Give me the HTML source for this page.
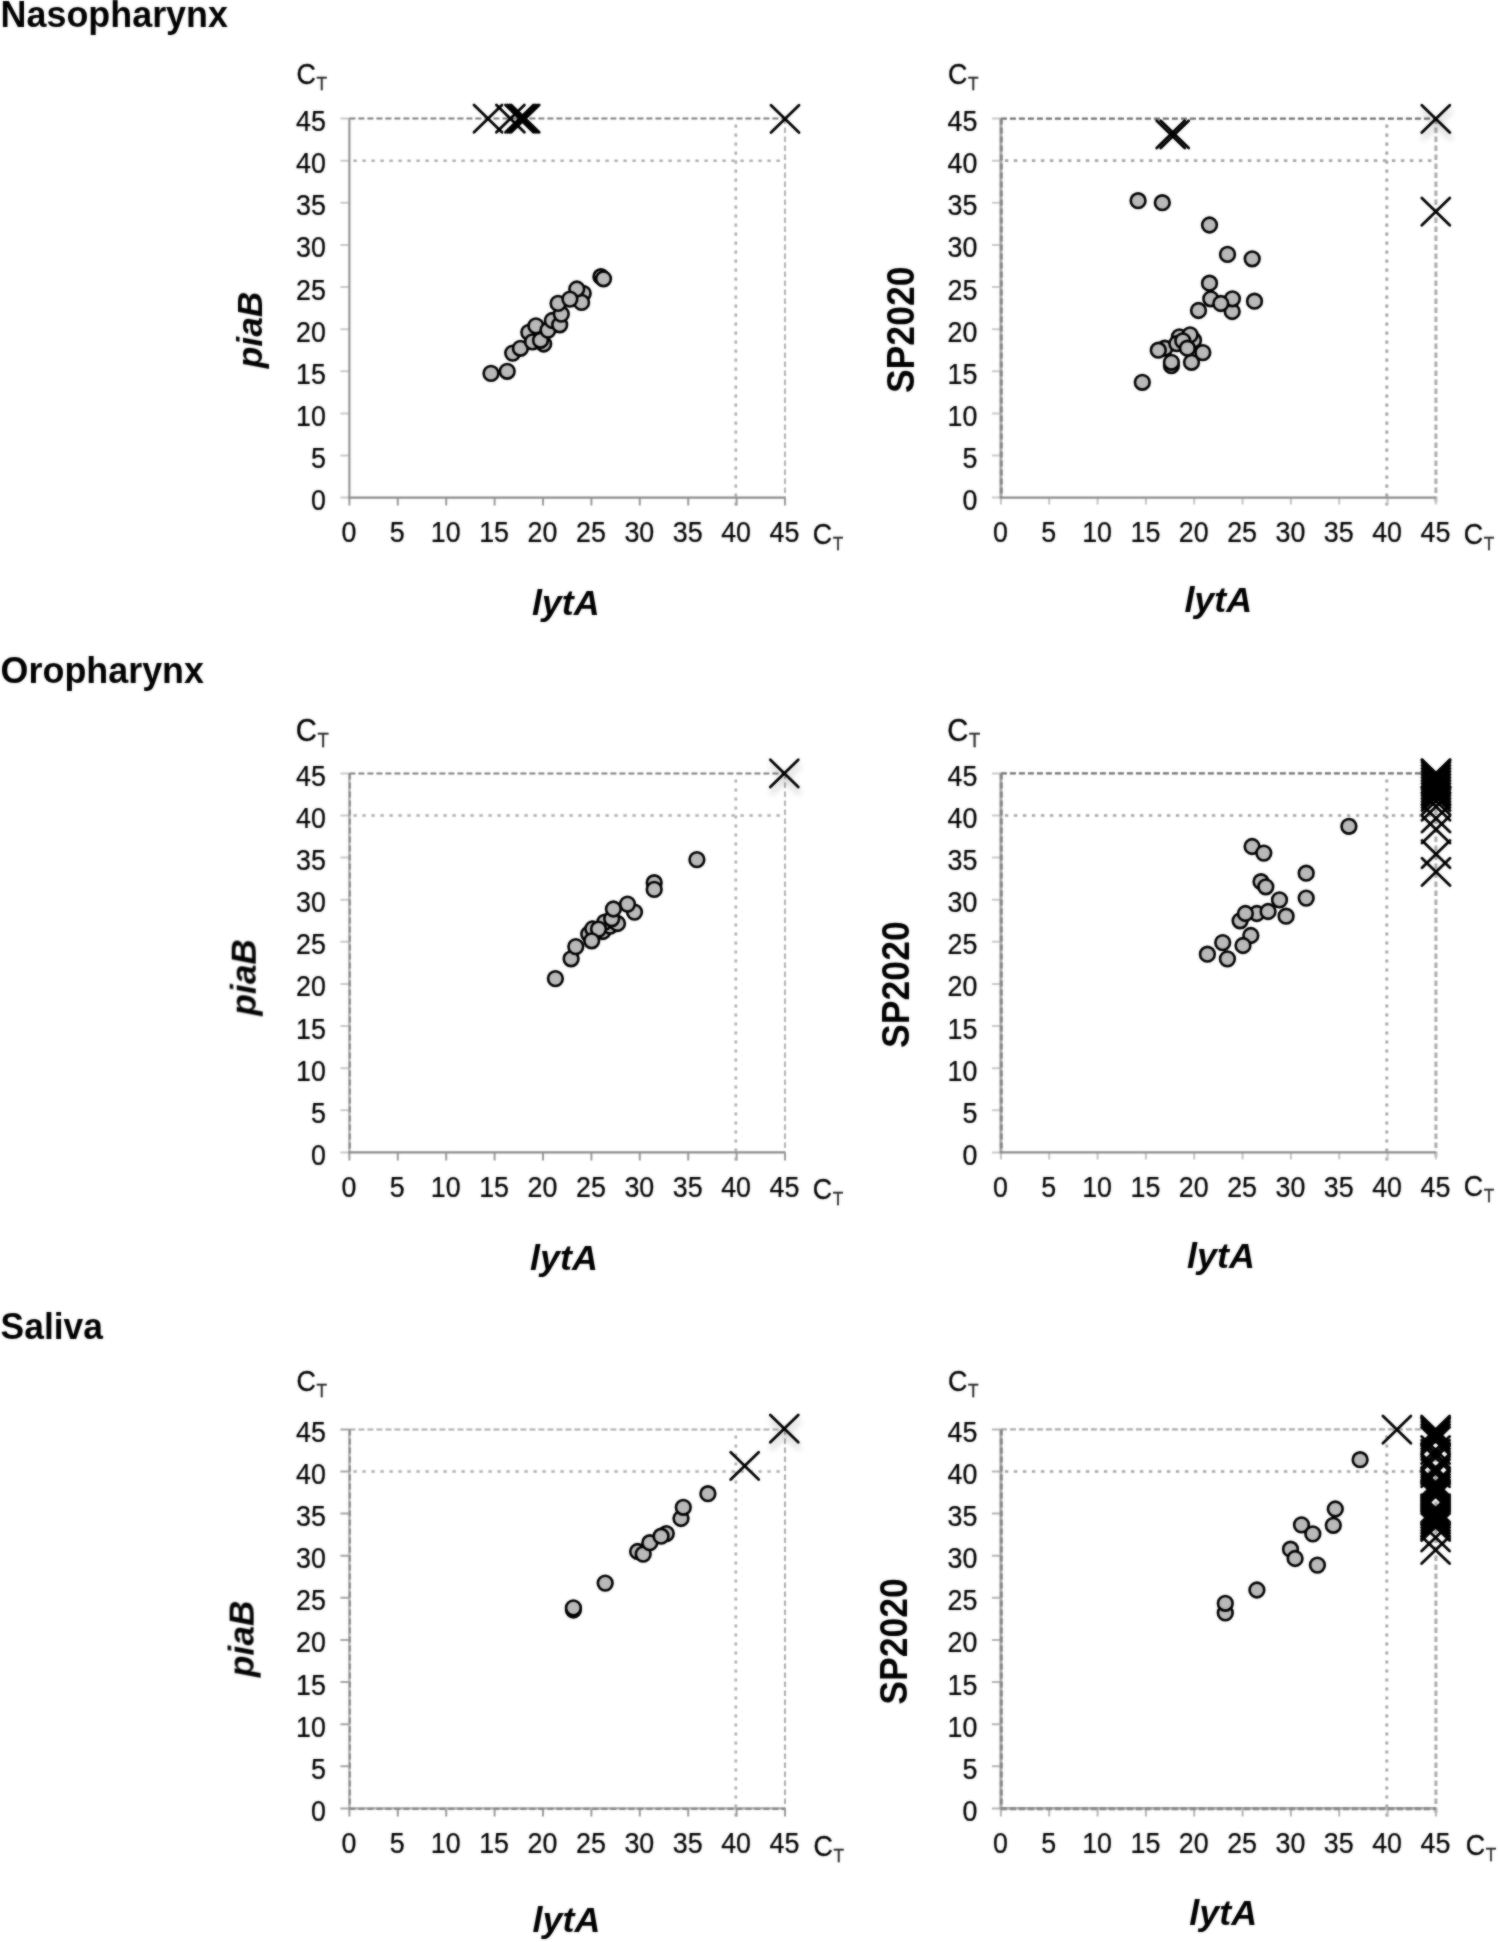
<!DOCTYPE html>
<html><head><meta charset="utf-8"><title>Figure</title>
<style>html,body{margin:0;padding:0;background:#fff}body{width:1498px;height:1942px;overflow:hidden}svg{display:block}text{font-family:"Liberation Sans", sans-serif;fill:#000}</style></head><body>
<svg width="1498" height="1942" viewBox="0 0 1498 1942">
<defs><filter id="sh" x="-50%" y="-50%" width="200%" height="200%"><feGaussianBlur in="SourceAlpha" stdDeviation="3.0"/><feOffset dx="1" dy="6" result="b"/><feComponentTransfer><feFuncA type="linear" slope="0.24"/></feComponentTransfer><feMerge><feMergeNode/><feMergeNode in="SourceGraphic"/></feMerge></filter></defs>
<rect width="1498" height="1942" fill="#fff"/>
<filter id="soft" x="0" y="0" width="100%" height="100%" filterUnits="userSpaceOnUse" color-interpolation-filters="sRGB"><feGaussianBlur stdDeviation="0.9" result="b"/><feComposite in="b" in2="SourceGraphic" operator="arithmetic" k1="0" k2="0.55" k3="0.45" k4="0"/></filter>
<g filter="url(#soft)">
<text transform="translate(0.60 27.40) scale(1 1.035)" font-size="35.90" font-weight="bold">Nasopharynx</text>
<text transform="translate(0.60 682.60) scale(1 1.035)" font-size="35.90" font-weight="bold">Oropharynx</text>
<text transform="translate(0.60 1339.30) scale(1 1.035)" font-size="35.40" font-weight="bold">Saliva</text>
<g>
<path d="M349.4 118.6H785.0" stroke="#7c7c7c" stroke-width="2.0" stroke-dasharray="6 3" fill="none"/>
<path d="M785.0 118.6V505.6" stroke="#b2b2b2" stroke-width="2.0" stroke-dasharray="5.5 3.5" fill="none"/>
<path d="M353.4 160.7H785.0" stroke="#adadad" stroke-width="2.45" stroke-dasharray="3.4 5.6" fill="none"/>
<path d="M735.8 124.6V505.6" stroke="#adadad" stroke-width="2.65" stroke-dasharray="3.2 5.8" fill="none"/>
<path d="M340.4 497.6h9M340.4 455.5h9M340.4 413.4h9M340.4 371.3h9M340.4 329.2h9M340.4 287.0h9M340.4 244.9h9M340.4 202.8h9M340.4 160.7h9M340.4 118.6h9" stroke="#c9c9c9" stroke-width="2" fill="none"/>
<path d="M349.4 497.6v8.0M397.8 497.6v8.0M446.2 497.6v8.0M494.6 497.6v8.0M543.0 497.6v8.0M591.4 497.6v8.0M639.8 497.6v8.0M688.2 497.6v8.0M736.6 497.6v8.0M785.0 497.6v8.0" stroke="#9a9a9a" stroke-width="2" fill="none"/>
<path d="M349.4 118.6V498.6" stroke="#919191" stroke-width="2.1" fill="none"/>
<path d="M348.4 497.6H785.0" stroke="#8c8c8c" stroke-width="2.3" fill="none"/>
<text transform="translate(325.80 510.10) scale(1 1.080)" font-size="26.80" text-anchor="end" stroke="#000" stroke-width="0.22">0</text>
<text transform="translate(325.80 467.99) scale(1 1.080)" font-size="26.80" text-anchor="end" stroke="#000" stroke-width="0.22">5</text>
<text transform="translate(325.80 425.88) scale(1 1.080)" font-size="26.80" text-anchor="end" stroke="#000" stroke-width="0.22">10</text>
<text transform="translate(325.80 383.77) scale(1 1.080)" font-size="26.80" text-anchor="end" stroke="#000" stroke-width="0.22">15</text>
<text transform="translate(325.80 341.66) scale(1 1.080)" font-size="26.80" text-anchor="end" stroke="#000" stroke-width="0.22">20</text>
<text transform="translate(325.80 299.54) scale(1 1.080)" font-size="26.80" text-anchor="end" stroke="#000" stroke-width="0.22">25</text>
<text transform="translate(325.80 257.43) scale(1 1.080)" font-size="26.80" text-anchor="end" stroke="#000" stroke-width="0.22">30</text>
<text transform="translate(325.80 215.32) scale(1 1.080)" font-size="26.80" text-anchor="end" stroke="#000" stroke-width="0.22">35</text>
<text transform="translate(325.80 173.21) scale(1 1.080)" font-size="26.80" text-anchor="end" stroke="#000" stroke-width="0.22">40</text>
<text transform="translate(325.80 131.10) scale(1 1.080)" font-size="26.80" text-anchor="end" stroke="#000" stroke-width="0.22">45</text>
<text transform="translate(348.90 542.00) scale(1 1.080)" font-size="26.80" text-anchor="middle" stroke="#000" stroke-width="0.22">0</text>
<text transform="translate(397.30 542.00) scale(1 1.080)" font-size="26.80" text-anchor="middle" stroke="#000" stroke-width="0.22">5</text>
<text transform="translate(445.70 542.00) scale(1 1.080)" font-size="26.80" text-anchor="middle" stroke="#000" stroke-width="0.22">10</text>
<text transform="translate(494.10 542.00) scale(1 1.080)" font-size="26.80" text-anchor="middle" stroke="#000" stroke-width="0.22">15</text>
<text transform="translate(542.50 542.00) scale(1 1.080)" font-size="26.80" text-anchor="middle" stroke="#000" stroke-width="0.22">20</text>
<text transform="translate(590.90 542.00) scale(1 1.080)" font-size="26.80" text-anchor="middle" stroke="#000" stroke-width="0.22">25</text>
<text transform="translate(639.30 542.00) scale(1 1.080)" font-size="26.80" text-anchor="middle" stroke="#000" stroke-width="0.22">30</text>
<text transform="translate(687.70 542.00) scale(1 1.080)" font-size="26.80" text-anchor="middle" stroke="#000" stroke-width="0.22">35</text>
<text transform="translate(736.10 542.00) scale(1 1.080)" font-size="26.80" text-anchor="middle" stroke="#000" stroke-width="0.22">40</text>
<text transform="translate(784.50 542.00) scale(1 1.080)" font-size="26.80" text-anchor="middle" stroke="#000" stroke-width="0.22">45</text>
<text transform="translate(296.50 83.80) scale(1 1.080)" font-size="26.80" stroke="#000" stroke-width="0.30">C<tspan font-size="17.2" dx="0.6" dy="5.3" fill="#333">T</tspan></text>
<text transform="translate(812.80 544.00) scale(1 1.080)" font-size="26.80" stroke="#000" stroke-width="0.30">C<tspan font-size="17.2" dx="0.6" dy="5.3" fill="#333">T</tspan></text>
<text transform="translate(565.80 615.20) scale(1 1.000)" font-size="35.90" text-anchor="middle" font-weight="bold" font-style="italic">lytA</text>
<text transform="translate(262.50 329.90) rotate(-90) scale(1 1.015)" font-size="35.30" text-anchor="middle" font-weight="bold" font-style="italic">piaB</text>
<circle cx="491.0" cy="373.4" r="7.35" fill="#b9b9b9" stroke="#000" stroke-width="2.6"/>
<circle cx="507.2" cy="371.3" r="7.35" fill="#b9b9b9" stroke="#000" stroke-width="2.6"/>
<circle cx="512.7" cy="353.1" r="7.35" fill="#b9b9b9" stroke="#000" stroke-width="2.6"/>
<circle cx="520.4" cy="348.3" r="7.35" fill="#b9b9b9" stroke="#000" stroke-width="2.6"/>
<circle cx="528.8" cy="332.3" r="7.35" fill="#b9b9b9" stroke="#000" stroke-width="2.6"/>
<circle cx="532.5" cy="341.9" r="7.35" fill="#b9b9b9" stroke="#000" stroke-width="2.6"/>
<circle cx="543.7" cy="344.0" r="7.35" fill="#b9b9b9" stroke="#000" stroke-width="2.6"/>
<circle cx="540.5" cy="340.3" r="7.35" fill="#b9b9b9" stroke="#000" stroke-width="2.6"/>
<circle cx="535.9" cy="325.9" r="7.35" fill="#b9b9b9" stroke="#000" stroke-width="2.6"/>
<circle cx="548.0" cy="330.1" r="7.35" fill="#b9b9b9" stroke="#000" stroke-width="2.6"/>
<circle cx="552.3" cy="320.5" r="7.35" fill="#b9b9b9" stroke="#000" stroke-width="2.6"/>
<circle cx="559.7" cy="324.8" r="7.35" fill="#b9b9b9" stroke="#000" stroke-width="2.6"/>
<circle cx="561.3" cy="314.1" r="7.35" fill="#b9b9b9" stroke="#000" stroke-width="2.6"/>
<circle cx="558.1" cy="303.4" r="7.35" fill="#b9b9b9" stroke="#000" stroke-width="2.6"/>
<circle cx="583.2" cy="293.3" r="7.35" fill="#b9b9b9" stroke="#000" stroke-width="2.6"/>
<circle cx="581.6" cy="302.4" r="7.35" fill="#b9b9b9" stroke="#000" stroke-width="2.6"/>
<circle cx="576.8" cy="289.0" r="7.35" fill="#b9b9b9" stroke="#000" stroke-width="2.6"/>
<circle cx="569.9" cy="299.1" r="7.35" fill="#b9b9b9" stroke="#000" stroke-width="2.6"/>
<circle cx="600.9" cy="276.7" r="7.35" fill="#b9b9b9" stroke="#000" stroke-width="2.6"/>
<circle cx="603.5" cy="278.8" r="7.35" fill="#b9b9b9" stroke="#000" stroke-width="2.6"/>
<path d="M474.0 105.1l28 27.2m-28 0l28 -27.2" stroke="#000" stroke-width="2.8" stroke-linecap="round" fill="none"/>
<path d="M496.4 105.1l28 27.2m-28 0l28 -27.2" stroke="#000" stroke-width="2.8" stroke-linecap="round" fill="none"/>
<path d="M505.5 105.1l28 27.2m-28 0l28 -27.2" stroke="#000" stroke-width="2.8" stroke-linecap="round" fill="none"/>
<path d="M507.5 105.1l28 27.2m-28 0l28 -27.2" stroke="#000" stroke-width="2.8" stroke-linecap="round" fill="none"/>
<path d="M509.5 105.1l28 27.2m-28 0l28 -27.2" stroke="#000" stroke-width="2.8" stroke-linecap="round" fill="none"/>
<path d="M511.2 105.1l28 27.2m-28 0l28 -27.2" stroke="#000" stroke-width="2.8" stroke-linecap="round" fill="none"/>
<path d="M771.0 105.2l28 27.2m-28 0l28 -27.2" stroke="#000" stroke-width="2.8" stroke-linecap="round" fill="none"/>
</g>
<g>
<path d="M1000.9 118.6H1435.9" stroke="#6f6f6f" stroke-width="2.3" stroke-dasharray="6 3" fill="none"/>
<path d="M1435.9 118.6V505.6" stroke="#ababab" stroke-width="3.0" stroke-dasharray="5.5 3.5" fill="none"/>
<path d="M1004.9 160.7H1435.9" stroke="#a2a2a2" stroke-width="2.70" stroke-dasharray="3.4 5.6" fill="none"/>
<path d="M1386.8 124.6V505.6" stroke="#a2a2a2" stroke-width="2.90" stroke-dasharray="3.2 5.8" fill="none"/>
<path d="M991.9 497.6h9M991.9 455.5h9M991.9 413.4h9M991.9 371.3h9M991.9 329.2h9M991.9 287.0h9M991.9 244.9h9M991.9 202.8h9M991.9 160.7h9M991.9 118.6h9" stroke="#c9c9c9" stroke-width="2" fill="none"/>
<path d="M1000.9 497.6v7.0M1049.2 497.6v7.0M1097.6 497.6v7.0M1145.9 497.6v7.0M1194.2 497.6v7.0M1242.6 497.6v7.0M1290.9 497.6v7.0M1339.2 497.6v7.0M1387.6 497.6v7.0M1435.9 497.6v7.0" stroke="#c4c4c4" stroke-width="2" fill="none"/>
<path d="M1000.9 118.6V498.6" stroke="#a8a8a8" stroke-width="2.9" fill="none"/>
<path d="M999.9 497.6H1435.9" stroke="#8c8c8c" stroke-width="2.3" fill="none"/>
<path d="M1001.3 118.6V497.6" stroke="#858585" stroke-width="2.9" stroke-dasharray="6 3" fill="none"/>
<text transform="translate(977.30 510.10) scale(1 1.080)" font-size="26.80" text-anchor="end" stroke="#000" stroke-width="0.22">0</text>
<text transform="translate(977.30 467.99) scale(1 1.080)" font-size="26.80" text-anchor="end" stroke="#000" stroke-width="0.22">5</text>
<text transform="translate(977.30 425.88) scale(1 1.080)" font-size="26.80" text-anchor="end" stroke="#000" stroke-width="0.22">10</text>
<text transform="translate(977.30 383.77) scale(1 1.080)" font-size="26.80" text-anchor="end" stroke="#000" stroke-width="0.22">15</text>
<text transform="translate(977.30 341.66) scale(1 1.080)" font-size="26.80" text-anchor="end" stroke="#000" stroke-width="0.22">20</text>
<text transform="translate(977.30 299.54) scale(1 1.080)" font-size="26.80" text-anchor="end" stroke="#000" stroke-width="0.22">25</text>
<text transform="translate(977.30 257.43) scale(1 1.080)" font-size="26.80" text-anchor="end" stroke="#000" stroke-width="0.22">30</text>
<text transform="translate(977.30 215.32) scale(1 1.080)" font-size="26.80" text-anchor="end" stroke="#000" stroke-width="0.22">35</text>
<text transform="translate(977.30 173.21) scale(1 1.080)" font-size="26.80" text-anchor="end" stroke="#000" stroke-width="0.22">40</text>
<text transform="translate(977.30 131.10) scale(1 1.080)" font-size="26.80" text-anchor="end" stroke="#000" stroke-width="0.22">45</text>
<text transform="translate(1000.40 542.00) scale(1 1.080)" font-size="26.80" text-anchor="middle" stroke="#000" stroke-width="0.22">0</text>
<text transform="translate(1048.73 542.00) scale(1 1.080)" font-size="26.80" text-anchor="middle" stroke="#000" stroke-width="0.22">5</text>
<text transform="translate(1097.07 542.00) scale(1 1.080)" font-size="26.80" text-anchor="middle" stroke="#000" stroke-width="0.22">10</text>
<text transform="translate(1145.40 542.00) scale(1 1.080)" font-size="26.80" text-anchor="middle" stroke="#000" stroke-width="0.22">15</text>
<text transform="translate(1193.73 542.00) scale(1 1.080)" font-size="26.80" text-anchor="middle" stroke="#000" stroke-width="0.22">20</text>
<text transform="translate(1242.07 542.00) scale(1 1.080)" font-size="26.80" text-anchor="middle" stroke="#000" stroke-width="0.22">25</text>
<text transform="translate(1290.40 542.00) scale(1 1.080)" font-size="26.80" text-anchor="middle" stroke="#000" stroke-width="0.22">30</text>
<text transform="translate(1338.73 542.00) scale(1 1.080)" font-size="26.80" text-anchor="middle" stroke="#000" stroke-width="0.22">35</text>
<text transform="translate(1387.07 542.00) scale(1 1.080)" font-size="26.80" text-anchor="middle" stroke="#000" stroke-width="0.22">40</text>
<text transform="translate(1435.40 542.00) scale(1 1.080)" font-size="26.80" text-anchor="middle" stroke="#000" stroke-width="0.22">45</text>
<text transform="translate(948.00 83.80) scale(1 1.080)" font-size="26.80" stroke="#000" stroke-width="0.30">C<tspan font-size="17.2" dx="0.6" dy="5.3" fill="#333">T</tspan></text>
<text transform="translate(1463.70 544.00) scale(1 1.080)" font-size="26.80" stroke="#000" stroke-width="0.30">C<tspan font-size="17.2" dx="0.6" dy="5.3" fill="#333">T</tspan></text>
<text transform="translate(1218.30 612.40) scale(1 1.000)" font-size="35.90" text-anchor="middle" font-weight="bold" font-style="italic">lytA</text>
<text transform="translate(914.20 329.80) rotate(-90) scale(1 1.070)" font-size="35.60" text-anchor="middle" font-weight="bold">SP2020</text>
<circle cx="1142.3" cy="382.3" r="7.35" fill="#b9b9b9" stroke="#000" stroke-width="2.6"/>
<circle cx="1171.4" cy="365.6" r="7.35" fill="#b9b9b9" stroke="#000" stroke-width="2.6"/>
<circle cx="1171.4" cy="362.3" r="7.35" fill="#b9b9b9" stroke="#000" stroke-width="2.6"/>
<circle cx="1164.8" cy="348.2" r="7.35" fill="#b9b9b9" stroke="#000" stroke-width="2.6"/>
<circle cx="1158.3" cy="350.2" r="7.35" fill="#b9b9b9" stroke="#000" stroke-width="2.6"/>
<circle cx="1191.5" cy="362.3" r="7.35" fill="#b9b9b9" stroke="#000" stroke-width="2.6"/>
<circle cx="1202.8" cy="352.6" r="7.35" fill="#b9b9b9" stroke="#000" stroke-width="2.6"/>
<circle cx="1179.4" cy="336.9" r="7.35" fill="#b9b9b9" stroke="#000" stroke-width="2.6"/>
<circle cx="1176.8" cy="343.6" r="7.35" fill="#b9b9b9" stroke="#000" stroke-width="2.6"/>
<circle cx="1193.5" cy="340.2" r="7.35" fill="#b9b9b9" stroke="#000" stroke-width="2.6"/>
<circle cx="1190.1" cy="334.9" r="7.35" fill="#b9b9b9" stroke="#000" stroke-width="2.6"/>
<circle cx="1182.8" cy="340.9" r="7.35" fill="#b9b9b9" stroke="#000" stroke-width="2.6"/>
<circle cx="1187.4" cy="348.2" r="7.35" fill="#b9b9b9" stroke="#000" stroke-width="2.6"/>
<circle cx="1198.5" cy="310.5" r="7.35" fill="#b9b9b9" stroke="#000" stroke-width="2.6"/>
<circle cx="1232.2" cy="311.5" r="7.35" fill="#b9b9b9" stroke="#000" stroke-width="2.6"/>
<circle cx="1210.8" cy="298.8" r="7.35" fill="#b9b9b9" stroke="#000" stroke-width="2.6"/>
<circle cx="1232.4" cy="298.8" r="7.35" fill="#b9b9b9" stroke="#000" stroke-width="2.6"/>
<circle cx="1220.8" cy="303.5" r="7.35" fill="#b9b9b9" stroke="#000" stroke-width="2.6"/>
<circle cx="1254.5" cy="301.2" r="7.35" fill="#b9b9b9" stroke="#000" stroke-width="2.6"/>
<circle cx="1209.5" cy="283.2" r="7.35" fill="#b9b9b9" stroke="#000" stroke-width="2.6"/>
<circle cx="1227.5" cy="254.4" r="7.35" fill="#b9b9b9" stroke="#000" stroke-width="2.6"/>
<circle cx="1252.2" cy="258.8" r="7.35" fill="#b9b9b9" stroke="#000" stroke-width="2.6"/>
<circle cx="1209.5" cy="225.0" r="7.35" fill="#b9b9b9" stroke="#000" stroke-width="2.6"/>
<circle cx="1138.1" cy="200.7" r="7.35" fill="#b9b9b9" stroke="#000" stroke-width="2.6"/>
<circle cx="1162.3" cy="202.7" r="7.35" fill="#b9b9b9" stroke="#000" stroke-width="2.6"/>
<path d="M1156.7 120.8l28 27.2m-28 0l28 -27.2" stroke="#000" stroke-width="2.8" stroke-linecap="round" fill="none"/>
<path d="M1160.7 120.8l28 27.2m-28 0l28 -27.2" stroke="#000" stroke-width="2.8" stroke-linecap="round" fill="none"/>
<path d="M1421.8 105.2l28 27.2m-28 0l28 -27.2" stroke="#000" stroke-width="2.8" stroke-linecap="round" fill="none" filter="url(#sh)"/>
<path d="M1421.8 198.0l28 27.2m-28 0l28 -27.2" stroke="#000" stroke-width="2.8" stroke-linecap="round" fill="none"/>
</g>
<g>
<path d="M349.4 773.4H785.0" stroke="#7c7c7c" stroke-width="2.0" stroke-dasharray="6 3" fill="none"/>
<path d="M785.0 773.4V1160.4" stroke="#b2b2b2" stroke-width="2.0" stroke-dasharray="5.5 3.5" fill="none"/>
<path d="M353.4 815.5H785.0" stroke="#adadad" stroke-width="2.45" stroke-dasharray="3.4 5.6" fill="none"/>
<path d="M735.8 779.4V1160.4" stroke="#adadad" stroke-width="2.65" stroke-dasharray="3.2 5.8" fill="none"/>
<path d="M340.4 1152.4h9M340.4 1110.3h9M340.4 1068.2h9M340.4 1026.1h9M340.4 984.0h9M340.4 941.8h9M340.4 899.7h9M340.4 857.6h9M340.4 815.5h9M340.4 773.4h9" stroke="#c9c9c9" stroke-width="2" fill="none"/>
<path d="M349.4 1152.4v8.0M397.8 1152.4v8.0M446.2 1152.4v8.0M494.6 1152.4v8.0M543.0 1152.4v8.0M591.4 1152.4v8.0M639.8 1152.4v8.0M688.2 1152.4v8.0M736.6 1152.4v8.0M785.0 1152.4v8.0" stroke="#9a9a9a" stroke-width="2" fill="none"/>
<path d="M349.4 773.4V1153.4" stroke="#a8a8a8" stroke-width="2.1" fill="none"/>
<path d="M348.4 1152.4H785.0" stroke="#8c8c8c" stroke-width="2.3" fill="none"/>
<path d="M349.8 773.4V1152.4" stroke="#858585" stroke-width="2.1" stroke-dasharray="6 3" fill="none"/>
<text transform="translate(325.80 1164.90) scale(1 1.080)" font-size="26.80" text-anchor="end" stroke="#000" stroke-width="0.22">0</text>
<text transform="translate(325.80 1122.79) scale(1 1.080)" font-size="26.80" text-anchor="end" stroke="#000" stroke-width="0.22">5</text>
<text transform="translate(325.80 1080.68) scale(1 1.080)" font-size="26.80" text-anchor="end" stroke="#000" stroke-width="0.22">10</text>
<text transform="translate(325.80 1038.57) scale(1 1.080)" font-size="26.80" text-anchor="end" stroke="#000" stroke-width="0.22">15</text>
<text transform="translate(325.80 996.46) scale(1 1.080)" font-size="26.80" text-anchor="end" stroke="#000" stroke-width="0.22">20</text>
<text transform="translate(325.80 954.34) scale(1 1.080)" font-size="26.80" text-anchor="end" stroke="#000" stroke-width="0.22">25</text>
<text transform="translate(325.80 912.23) scale(1 1.080)" font-size="26.80" text-anchor="end" stroke="#000" stroke-width="0.22">30</text>
<text transform="translate(325.80 870.12) scale(1 1.080)" font-size="26.80" text-anchor="end" stroke="#000" stroke-width="0.22">35</text>
<text transform="translate(325.80 828.01) scale(1 1.080)" font-size="26.80" text-anchor="end" stroke="#000" stroke-width="0.22">40</text>
<text transform="translate(325.80 785.90) scale(1 1.080)" font-size="26.80" text-anchor="end" stroke="#000" stroke-width="0.22">45</text>
<text transform="translate(348.90 1196.80) scale(1 1.080)" font-size="26.80" text-anchor="middle" stroke="#000" stroke-width="0.22">0</text>
<text transform="translate(397.30 1196.80) scale(1 1.080)" font-size="26.80" text-anchor="middle" stroke="#000" stroke-width="0.22">5</text>
<text transform="translate(445.70 1196.80) scale(1 1.080)" font-size="26.80" text-anchor="middle" stroke="#000" stroke-width="0.22">10</text>
<text transform="translate(494.10 1196.80) scale(1 1.080)" font-size="26.80" text-anchor="middle" stroke="#000" stroke-width="0.22">15</text>
<text transform="translate(542.50 1196.80) scale(1 1.080)" font-size="26.80" text-anchor="middle" stroke="#000" stroke-width="0.22">20</text>
<text transform="translate(590.90 1196.80) scale(1 1.080)" font-size="26.80" text-anchor="middle" stroke="#000" stroke-width="0.22">25</text>
<text transform="translate(639.30 1196.80) scale(1 1.080)" font-size="26.80" text-anchor="middle" stroke="#000" stroke-width="0.22">30</text>
<text transform="translate(687.70 1196.80) scale(1 1.080)" font-size="26.80" text-anchor="middle" stroke="#000" stroke-width="0.22">35</text>
<text transform="translate(736.10 1196.80) scale(1 1.080)" font-size="26.80" text-anchor="middle" stroke="#000" stroke-width="0.22">40</text>
<text transform="translate(784.50 1196.80) scale(1 1.080)" font-size="26.80" text-anchor="middle" stroke="#000" stroke-width="0.22">45</text>
<text transform="translate(295.80 740.60) scale(1 1.080)" font-size="29.20" stroke="#000" stroke-width="0.30">C<tspan font-size="18.4" dx="0.6" dy="5.6" fill="#333">T</tspan></text>
<text transform="translate(812.80 1198.80) scale(1 1.080)" font-size="26.80" stroke="#000" stroke-width="0.30">C<tspan font-size="17.2" dx="0.6" dy="5.3" fill="#333">T</tspan></text>
<text transform="translate(564.00 1270.00) scale(1 1.000)" font-size="35.90" text-anchor="middle" font-weight="bold" font-style="italic">lytA</text>
<text transform="translate(256.20 977.40) rotate(-90) scale(1 1.015)" font-size="35.30" text-anchor="middle" font-weight="bold" font-style="italic">piaB</text>
<circle cx="555.4" cy="978.6" r="7.35" fill="#b9b9b9" stroke="#000" stroke-width="2.6"/>
<circle cx="571.1" cy="958.8" r="7.35" fill="#b9b9b9" stroke="#000" stroke-width="2.6"/>
<circle cx="575.8" cy="946.6" r="7.35" fill="#b9b9b9" stroke="#000" stroke-width="2.6"/>
<circle cx="588.7" cy="934.1" r="7.35" fill="#b9b9b9" stroke="#000" stroke-width="2.6"/>
<circle cx="592.8" cy="928.8" r="7.35" fill="#b9b9b9" stroke="#000" stroke-width="2.6"/>
<circle cx="602.8" cy="931.5" r="7.35" fill="#b9b9b9" stroke="#000" stroke-width="2.6"/>
<circle cx="610.1" cy="926.1" r="7.35" fill="#b9b9b9" stroke="#000" stroke-width="2.6"/>
<circle cx="617.5" cy="923.5" r="7.35" fill="#b9b9b9" stroke="#000" stroke-width="2.6"/>
<circle cx="604.8" cy="922.1" r="7.35" fill="#b9b9b9" stroke="#000" stroke-width="2.6"/>
<circle cx="611.7" cy="918.8" r="7.35" fill="#b9b9b9" stroke="#000" stroke-width="2.6"/>
<circle cx="598.5" cy="929.1" r="7.35" fill="#b9b9b9" stroke="#000" stroke-width="2.6"/>
<circle cx="591.7" cy="940.8" r="7.35" fill="#b9b9b9" stroke="#000" stroke-width="2.6"/>
<circle cx="634.5" cy="912.1" r="7.35" fill="#b9b9b9" stroke="#000" stroke-width="2.6"/>
<circle cx="627.5" cy="904.1" r="7.35" fill="#b9b9b9" stroke="#000" stroke-width="2.6"/>
<circle cx="613.4" cy="909.0" r="7.35" fill="#b9b9b9" stroke="#000" stroke-width="2.6"/>
<circle cx="654.2" cy="882.7" r="7.35" fill="#b9b9b9" stroke="#000" stroke-width="2.6"/>
<circle cx="654.2" cy="889.4" r="7.35" fill="#b9b9b9" stroke="#000" stroke-width="2.6"/>
<circle cx="696.9" cy="859.6" r="7.35" fill="#b9b9b9" stroke="#000" stroke-width="2.6"/>
<path d="M770.3 759.8l28 27.2m-28 0l28 -27.2" stroke="#000" stroke-width="2.8" stroke-linecap="round" fill="none" filter="url(#sh)"/>
</g>
<g>
<path d="M1000.9 773.4H1435.9" stroke="#6f6f6f" stroke-width="2.3" stroke-dasharray="6 3" fill="none"/>
<path d="M1435.9 773.4V1160.4" stroke="#ababab" stroke-width="3.0" stroke-dasharray="5.5 3.5" fill="none"/>
<path d="M1004.9 815.5H1435.9" stroke="#a2a2a2" stroke-width="2.70" stroke-dasharray="3.4 5.6" fill="none"/>
<path d="M1386.8 779.4V1160.4" stroke="#a2a2a2" stroke-width="2.90" stroke-dasharray="3.2 5.8" fill="none"/>
<path d="M991.9 1152.4h9M991.9 1110.3h9M991.9 1068.2h9M991.9 1026.1h9M991.9 984.0h9M991.9 941.8h9M991.9 899.7h9M991.9 857.6h9M991.9 815.5h9M991.9 773.4h9" stroke="#c9c9c9" stroke-width="2" fill="none"/>
<path d="M1000.9 1152.4v7.0M1049.2 1152.4v7.0M1097.6 1152.4v7.0M1145.9 1152.4v7.0M1194.2 1152.4v7.0M1242.6 1152.4v7.0M1290.9 1152.4v7.0M1339.2 1152.4v7.0M1387.6 1152.4v7.0M1435.9 1152.4v7.0" stroke="#c4c4c4" stroke-width="2" fill="none"/>
<path d="M1000.9 773.4V1153.4" stroke="#a8a8a8" stroke-width="2.9" fill="none"/>
<path d="M999.9 1152.4H1435.9" stroke="#8c8c8c" stroke-width="2.3" fill="none"/>
<path d="M1001.3 773.4V1152.4" stroke="#858585" stroke-width="2.9" stroke-dasharray="6 3" fill="none"/>
<text transform="translate(977.30 1164.90) scale(1 1.080)" font-size="26.80" text-anchor="end" stroke="#000" stroke-width="0.22">0</text>
<text transform="translate(977.30 1122.79) scale(1 1.080)" font-size="26.80" text-anchor="end" stroke="#000" stroke-width="0.22">5</text>
<text transform="translate(977.30 1080.68) scale(1 1.080)" font-size="26.80" text-anchor="end" stroke="#000" stroke-width="0.22">10</text>
<text transform="translate(977.30 1038.57) scale(1 1.080)" font-size="26.80" text-anchor="end" stroke="#000" stroke-width="0.22">15</text>
<text transform="translate(977.30 996.46) scale(1 1.080)" font-size="26.80" text-anchor="end" stroke="#000" stroke-width="0.22">20</text>
<text transform="translate(977.30 954.34) scale(1 1.080)" font-size="26.80" text-anchor="end" stroke="#000" stroke-width="0.22">25</text>
<text transform="translate(977.30 912.23) scale(1 1.080)" font-size="26.80" text-anchor="end" stroke="#000" stroke-width="0.22">30</text>
<text transform="translate(977.30 870.12) scale(1 1.080)" font-size="26.80" text-anchor="end" stroke="#000" stroke-width="0.22">35</text>
<text transform="translate(977.30 828.01) scale(1 1.080)" font-size="26.80" text-anchor="end" stroke="#000" stroke-width="0.22">40</text>
<text transform="translate(977.30 785.90) scale(1 1.080)" font-size="26.80" text-anchor="end" stroke="#000" stroke-width="0.22">45</text>
<text transform="translate(1000.40 1196.80) scale(1 1.080)" font-size="26.80" text-anchor="middle" stroke="#000" stroke-width="0.22">0</text>
<text transform="translate(1048.73 1196.80) scale(1 1.080)" font-size="26.80" text-anchor="middle" stroke="#000" stroke-width="0.22">5</text>
<text transform="translate(1097.07 1196.80) scale(1 1.080)" font-size="26.80" text-anchor="middle" stroke="#000" stroke-width="0.22">10</text>
<text transform="translate(1145.40 1196.80) scale(1 1.080)" font-size="26.80" text-anchor="middle" stroke="#000" stroke-width="0.22">15</text>
<text transform="translate(1193.73 1196.80) scale(1 1.080)" font-size="26.80" text-anchor="middle" stroke="#000" stroke-width="0.22">20</text>
<text transform="translate(1242.07 1196.80) scale(1 1.080)" font-size="26.80" text-anchor="middle" stroke="#000" stroke-width="0.22">25</text>
<text transform="translate(1290.40 1196.80) scale(1 1.080)" font-size="26.80" text-anchor="middle" stroke="#000" stroke-width="0.22">30</text>
<text transform="translate(1338.73 1196.80) scale(1 1.080)" font-size="26.80" text-anchor="middle" stroke="#000" stroke-width="0.22">35</text>
<text transform="translate(1387.07 1196.80) scale(1 1.080)" font-size="26.80" text-anchor="middle" stroke="#000" stroke-width="0.22">40</text>
<text transform="translate(1435.40 1196.80) scale(1 1.080)" font-size="26.80" text-anchor="middle" stroke="#000" stroke-width="0.22">45</text>
<text transform="translate(947.30 740.60) scale(1 1.080)" font-size="29.20" stroke="#000" stroke-width="0.30">C<tspan font-size="18.4" dx="0.6" dy="5.6" fill="#333">T</tspan></text>
<text transform="translate(1463.70 1196.00) scale(1 1.080)" font-size="26.80" stroke="#000" stroke-width="0.30">C<tspan font-size="17.2" dx="0.6" dy="5.3" fill="#333">T</tspan></text>
<text transform="translate(1221.00 1268.00) scale(1 1.000)" font-size="35.90" text-anchor="middle" font-weight="bold" font-style="italic">lytA</text>
<text transform="translate(909.10 984.60) rotate(-90) scale(1 1.070)" font-size="35.60" text-anchor="middle" font-weight="bold">SP2020</text>
<circle cx="1207.4" cy="954.2" r="7.35" fill="#b9b9b9" stroke="#000" stroke-width="2.6"/>
<circle cx="1227.4" cy="958.9" r="7.35" fill="#b9b9b9" stroke="#000" stroke-width="2.6"/>
<circle cx="1222.7" cy="942.6" r="7.35" fill="#b9b9b9" stroke="#000" stroke-width="2.6"/>
<circle cx="1250.8" cy="935.5" r="7.35" fill="#b9b9b9" stroke="#000" stroke-width="2.6"/>
<circle cx="1243.0" cy="945.5" r="7.35" fill="#b9b9b9" stroke="#000" stroke-width="2.6"/>
<circle cx="1240.1" cy="920.8" r="7.35" fill="#b9b9b9" stroke="#000" stroke-width="2.6"/>
<circle cx="1256.8" cy="913.5" r="7.35" fill="#b9b9b9" stroke="#000" stroke-width="2.6"/>
<circle cx="1245.4" cy="913.5" r="7.35" fill="#b9b9b9" stroke="#000" stroke-width="2.6"/>
<circle cx="1286.1" cy="916.2" r="7.35" fill="#b9b9b9" stroke="#000" stroke-width="2.6"/>
<circle cx="1279.5" cy="899.9" r="7.35" fill="#b9b9b9" stroke="#000" stroke-width="2.6"/>
<circle cx="1268.1" cy="911.5" r="7.35" fill="#b9b9b9" stroke="#000" stroke-width="2.6"/>
<circle cx="1261.0" cy="881.7" r="7.35" fill="#b9b9b9" stroke="#000" stroke-width="2.6"/>
<circle cx="1265.8" cy="886.8" r="7.35" fill="#b9b9b9" stroke="#000" stroke-width="2.6"/>
<circle cx="1306.2" cy="898.1" r="7.35" fill="#b9b9b9" stroke="#000" stroke-width="2.6"/>
<circle cx="1306.2" cy="873.2" r="7.35" fill="#b9b9b9" stroke="#000" stroke-width="2.6"/>
<circle cx="1252.1" cy="846.5" r="7.35" fill="#b9b9b9" stroke="#000" stroke-width="2.6"/>
<circle cx="1263.8" cy="853.1" r="7.35" fill="#b9b9b9" stroke="#000" stroke-width="2.6"/>
<circle cx="1348.9" cy="826.3" r="7.35" fill="#b9b9b9" stroke="#000" stroke-width="2.6"/>
<path d="M1422.0 858.2l28 27.2m-28 0l28 -27.2" stroke="#000" stroke-width="2.8" stroke-linecap="round" fill="none"/>
<path d="M1422.0 840.5l28 27.2m-28 0l28 -27.2" stroke="#000" stroke-width="2.8" stroke-linecap="round" fill="none"/>
<path d="M1422.0 815.8l28 27.2m-28 0l28 -27.2" stroke="#000" stroke-width="2.8" stroke-linecap="round" fill="none"/>
<path d="M1422.0 804.7l28 27.2m-28 0l28 -27.2" stroke="#000" stroke-width="2.8" stroke-linecap="round" fill="none"/>
<path d="M1422.0 793.1l28 27.2m-28 0l28 -27.2" stroke="#000" stroke-width="2.8" stroke-linecap="round" fill="none"/>
<path d="M1422.0 787.4l28 27.2m-28 0l28 -27.2" stroke="#000" stroke-width="2.8" stroke-linecap="round" fill="none"/>
<path d="M1422.0 783.4l28 27.2m-28 0l28 -27.2" stroke="#000" stroke-width="2.8" stroke-linecap="round" fill="none"/>
<path d="M1422.0 780.4l28 27.2m-28 0l28 -27.2" stroke="#000" stroke-width="2.8" stroke-linecap="round" fill="none"/>
<path d="M1422.0 777.4l28 27.2m-28 0l28 -27.2" stroke="#000" stroke-width="2.8" stroke-linecap="round" fill="none"/>
<path d="M1422.0 774.4l28 27.2m-28 0l28 -27.2" stroke="#000" stroke-width="2.8" stroke-linecap="round" fill="none"/>
<path d="M1422.0 771.4l28 27.2m-28 0l28 -27.2" stroke="#000" stroke-width="2.8" stroke-linecap="round" fill="none"/>
<path d="M1422.0 768.4l28 27.2m-28 0l28 -27.2" stroke="#000" stroke-width="2.8" stroke-linecap="round" fill="none"/>
<path d="M1422.0 765.4l28 27.2m-28 0l28 -27.2" stroke="#000" stroke-width="2.8" stroke-linecap="round" fill="none"/>
<path d="M1422.0 762.4l28 27.2m-28 0l28 -27.2" stroke="#000" stroke-width="2.8" stroke-linecap="round" fill="none"/>
<path d="M1422.0 760.4l28 27.2m-28 0l28 -27.2" stroke="#000" stroke-width="2.8" stroke-linecap="round" fill="none"/>
<path d="M1422.0 759.8l28 27.2m-28 0l28 -27.2" stroke="#000" stroke-width="2.8" stroke-linecap="round" fill="none"/>
<path d="M1422.0 759.8l28 27.2m-28 0l28 -27.2" stroke="#000" stroke-width="2.8" stroke-linecap="round" fill="none"/>
</g>
<g>
<path d="M349.4 1429.4H785.0" stroke="#ababab" stroke-width="2.0" stroke-dasharray="6 3" fill="none"/>
<path d="M785.0 1429.4V1816.4" stroke="#ababab" stroke-width="2.0" stroke-dasharray="5.5 3.5" fill="none"/>
<path d="M353.4 1471.5H785.0" stroke="#adadad" stroke-width="2.45" stroke-dasharray="3.4 5.6" fill="none"/>
<path d="M735.8 1435.4V1816.4" stroke="#adadad" stroke-width="2.65" stroke-dasharray="3.2 5.8" fill="none"/>
<path d="M340.4 1808.4h9M340.4 1766.3h9M340.4 1724.2h9M340.4 1682.1h9M340.4 1640.0h9M340.4 1597.8h9M340.4 1555.7h9M340.4 1513.6h9M340.4 1471.5h9M340.4 1429.4h9" stroke="#a4a4a4" stroke-width="2" fill="none"/>
<path d="M349.4 1808.4v8.0M397.8 1808.4v8.0M446.2 1808.4v8.0M494.6 1808.4v8.0M543.0 1808.4v8.0M591.4 1808.4v8.0M639.8 1808.4v8.0M688.2 1808.4v8.0M736.6 1808.4v8.0M785.0 1808.4v8.0" stroke="#9a9a9a" stroke-width="2" fill="none"/>
<path d="M349.4 1429.4V1809.4" stroke="#a8a8a8" stroke-width="2.1" fill="none"/>
<path d="M348.4 1808.4H785.0" stroke="#a8a8a8" stroke-width="2.3" fill="none"/>
<path d="M349.8 1429.4V1808.4" stroke="#858585" stroke-width="2.1" stroke-dasharray="6 3" fill="none"/>
<path d="M349.4 1808.8H785.0" stroke="#858585" stroke-width="2.3" stroke-dasharray="6 3" fill="none"/>
<text transform="translate(325.80 1820.90) scale(1 1.080)" font-size="26.80" text-anchor="end" stroke="#000" stroke-width="0.22">0</text>
<text transform="translate(325.80 1778.79) scale(1 1.080)" font-size="26.80" text-anchor="end" stroke="#000" stroke-width="0.22">5</text>
<text transform="translate(325.80 1736.68) scale(1 1.080)" font-size="26.80" text-anchor="end" stroke="#000" stroke-width="0.22">10</text>
<text transform="translate(325.80 1694.57) scale(1 1.080)" font-size="26.80" text-anchor="end" stroke="#000" stroke-width="0.22">15</text>
<text transform="translate(325.80 1652.46) scale(1 1.080)" font-size="26.80" text-anchor="end" stroke="#000" stroke-width="0.22">20</text>
<text transform="translate(325.80 1610.34) scale(1 1.080)" font-size="26.80" text-anchor="end" stroke="#000" stroke-width="0.22">25</text>
<text transform="translate(325.80 1568.23) scale(1 1.080)" font-size="26.80" text-anchor="end" stroke="#000" stroke-width="0.22">30</text>
<text transform="translate(325.80 1526.12) scale(1 1.080)" font-size="26.80" text-anchor="end" stroke="#000" stroke-width="0.22">35</text>
<text transform="translate(325.80 1484.01) scale(1 1.080)" font-size="26.80" text-anchor="end" stroke="#000" stroke-width="0.22">40</text>
<text transform="translate(325.80 1441.90) scale(1 1.080)" font-size="26.80" text-anchor="end" stroke="#000" stroke-width="0.22">45</text>
<text transform="translate(348.90 1852.80) scale(1 1.080)" font-size="26.80" text-anchor="middle" stroke="#000" stroke-width="0.22">0</text>
<text transform="translate(397.30 1852.80) scale(1 1.080)" font-size="26.80" text-anchor="middle" stroke="#000" stroke-width="0.22">5</text>
<text transform="translate(445.70 1852.80) scale(1 1.080)" font-size="26.80" text-anchor="middle" stroke="#000" stroke-width="0.22">10</text>
<text transform="translate(494.10 1852.80) scale(1 1.080)" font-size="26.80" text-anchor="middle" stroke="#000" stroke-width="0.22">15</text>
<text transform="translate(542.50 1852.80) scale(1 1.080)" font-size="26.80" text-anchor="middle" stroke="#000" stroke-width="0.22">20</text>
<text transform="translate(590.90 1852.80) scale(1 1.080)" font-size="26.80" text-anchor="middle" stroke="#000" stroke-width="0.22">25</text>
<text transform="translate(639.30 1852.80) scale(1 1.080)" font-size="26.80" text-anchor="middle" stroke="#000" stroke-width="0.22">30</text>
<text transform="translate(687.70 1852.80) scale(1 1.080)" font-size="26.80" text-anchor="middle" stroke="#000" stroke-width="0.22">35</text>
<text transform="translate(736.10 1852.80) scale(1 1.080)" font-size="26.80" text-anchor="middle" stroke="#000" stroke-width="0.22">40</text>
<text transform="translate(784.50 1852.80) scale(1 1.080)" font-size="26.80" text-anchor="middle" stroke="#000" stroke-width="0.22">45</text>
<text transform="translate(296.60 1390.80) scale(1 1.080)" font-size="26.80" stroke="#000" stroke-width="0.30">C<tspan font-size="17.2" dx="0.6" dy="5.6" fill="#333">T</tspan></text>
<text transform="translate(813.60 1855.80) scale(1 1.080)" font-size="26.80" stroke="#000" stroke-width="0.30">C<tspan font-size="17.2" dx="0.6" dy="5.3" fill="#333">T</tspan></text>
<text transform="translate(566.40 1931.70) scale(1 1.000)" font-size="35.90" text-anchor="middle" font-weight="bold" font-style="italic">lytA</text>
<text transform="translate(254.10 1638.80) rotate(-90) scale(1 1.015)" font-size="35.30" text-anchor="middle" font-weight="bold" font-style="italic">piaB</text>
<circle cx="573.4" cy="1610.0" r="7.35" fill="#b9b9b9" stroke="#000" stroke-width="2.6"/>
<circle cx="573.4" cy="1607.9" r="7.35" fill="#b9b9b9" stroke="#000" stroke-width="2.6"/>
<circle cx="605.2" cy="1583.1" r="7.35" fill="#b9b9b9" stroke="#000" stroke-width="2.6"/>
<circle cx="637.6" cy="1551.5" r="7.35" fill="#b9b9b9" stroke="#000" stroke-width="2.6"/>
<circle cx="643.2" cy="1554.1" r="7.35" fill="#b9b9b9" stroke="#000" stroke-width="2.6"/>
<circle cx="649.8" cy="1542.7" r="7.35" fill="#b9b9b9" stroke="#000" stroke-width="2.6"/>
<circle cx="666.3" cy="1533.6" r="7.35" fill="#b9b9b9" stroke="#000" stroke-width="2.6"/>
<circle cx="661.1" cy="1536.2" r="7.35" fill="#b9b9b9" stroke="#000" stroke-width="2.6"/>
<circle cx="681.0" cy="1518.5" r="7.35" fill="#b9b9b9" stroke="#000" stroke-width="2.6"/>
<circle cx="683.3" cy="1507.3" r="7.35" fill="#b9b9b9" stroke="#000" stroke-width="2.6"/>
<circle cx="707.9" cy="1493.7" r="7.35" fill="#b9b9b9" stroke="#000" stroke-width="2.6"/>
<path d="M730.7 1452.3l28 27.2m-28 0l28 -27.2" stroke="#000" stroke-width="2.8" stroke-linecap="round" fill="none"/>
<path d="M770.3 1415.0l28 27.2m-28 0l28 -27.2" stroke="#000" stroke-width="2.8" stroke-linecap="round" fill="none" filter="url(#sh)"/>
</g>
<g>
<path d="M1000.9 1429.4H1435.9" stroke="#ababab" stroke-width="2.3" stroke-dasharray="6 3" fill="none"/>
<path d="M1435.9 1429.4V1816.4" stroke="#ababab" stroke-width="3.0" stroke-dasharray="5.5 3.5" fill="none"/>
<path d="M1004.9 1471.5H1435.9" stroke="#a2a2a2" stroke-width="2.70" stroke-dasharray="3.4 5.6" fill="none"/>
<path d="M1386.8 1435.4V1816.4" stroke="#a2a2a2" stroke-width="2.90" stroke-dasharray="3.2 5.8" fill="none"/>
<path d="M991.9 1808.4h9M991.9 1766.3h9M991.9 1724.2h9M991.9 1682.1h9M991.9 1640.0h9M991.9 1597.8h9M991.9 1555.7h9M991.9 1513.6h9M991.9 1471.5h9M991.9 1429.4h9" stroke="#b4b4b4" stroke-width="2" fill="none"/>
<path d="M1000.9 1808.4v8.0M1049.2 1808.4v8.0M1097.6 1808.4v8.0M1145.9 1808.4v8.0M1194.2 1808.4v8.0M1242.6 1808.4v8.0M1290.9 1808.4v8.0M1339.2 1808.4v8.0M1387.6 1808.4v8.0M1435.9 1808.4v8.0" stroke="#b4b4b4" stroke-width="2" fill="none"/>
<path d="M1000.9 1429.4V1809.4" stroke="#a8a8a8" stroke-width="2.9" fill="none"/>
<path d="M999.9 1808.4H1435.9" stroke="#a8a8a8" stroke-width="2.9" fill="none"/>
<path d="M1001.3 1429.4V1808.4" stroke="#858585" stroke-width="2.9" stroke-dasharray="6 3" fill="none"/>
<path d="M1000.9 1808.8H1435.9" stroke="#858585" stroke-width="2.9" stroke-dasharray="6 3" fill="none"/>
<text transform="translate(977.30 1820.90) scale(1 1.080)" font-size="26.80" text-anchor="end" stroke="#000" stroke-width="0.22">0</text>
<text transform="translate(977.30 1778.79) scale(1 1.080)" font-size="26.80" text-anchor="end" stroke="#000" stroke-width="0.22">5</text>
<text transform="translate(977.30 1736.68) scale(1 1.080)" font-size="26.80" text-anchor="end" stroke="#000" stroke-width="0.22">10</text>
<text transform="translate(977.30 1694.57) scale(1 1.080)" font-size="26.80" text-anchor="end" stroke="#000" stroke-width="0.22">15</text>
<text transform="translate(977.30 1652.46) scale(1 1.080)" font-size="26.80" text-anchor="end" stroke="#000" stroke-width="0.22">20</text>
<text transform="translate(977.30 1610.34) scale(1 1.080)" font-size="26.80" text-anchor="end" stroke="#000" stroke-width="0.22">25</text>
<text transform="translate(977.30 1568.23) scale(1 1.080)" font-size="26.80" text-anchor="end" stroke="#000" stroke-width="0.22">30</text>
<text transform="translate(977.30 1526.12) scale(1 1.080)" font-size="26.80" text-anchor="end" stroke="#000" stroke-width="0.22">35</text>
<text transform="translate(977.30 1484.01) scale(1 1.080)" font-size="26.80" text-anchor="end" stroke="#000" stroke-width="0.22">40</text>
<text transform="translate(977.30 1441.90) scale(1 1.080)" font-size="26.80" text-anchor="end" stroke="#000" stroke-width="0.22">45</text>
<text transform="translate(1000.40 1852.80) scale(1 1.080)" font-size="26.80" text-anchor="middle" stroke="#000" stroke-width="0.22">0</text>
<text transform="translate(1048.73 1852.80) scale(1 1.080)" font-size="26.80" text-anchor="middle" stroke="#000" stroke-width="0.22">5</text>
<text transform="translate(1097.07 1852.80) scale(1 1.080)" font-size="26.80" text-anchor="middle" stroke="#000" stroke-width="0.22">10</text>
<text transform="translate(1145.40 1852.80) scale(1 1.080)" font-size="26.80" text-anchor="middle" stroke="#000" stroke-width="0.22">15</text>
<text transform="translate(1193.73 1852.80) scale(1 1.080)" font-size="26.80" text-anchor="middle" stroke="#000" stroke-width="0.22">20</text>
<text transform="translate(1242.07 1852.80) scale(1 1.080)" font-size="26.80" text-anchor="middle" stroke="#000" stroke-width="0.22">25</text>
<text transform="translate(1290.40 1852.80) scale(1 1.080)" font-size="26.80" text-anchor="middle" stroke="#000" stroke-width="0.22">30</text>
<text transform="translate(1338.73 1852.80) scale(1 1.080)" font-size="26.80" text-anchor="middle" stroke="#000" stroke-width="0.22">35</text>
<text transform="translate(1387.07 1852.80) scale(1 1.080)" font-size="26.80" text-anchor="middle" stroke="#000" stroke-width="0.22">40</text>
<text transform="translate(1435.40 1852.80) scale(1 1.080)" font-size="26.80" text-anchor="middle" stroke="#000" stroke-width="0.22">45</text>
<text transform="translate(948.10 1390.80) scale(1 1.080)" font-size="26.80" stroke="#000" stroke-width="0.30">C<tspan font-size="17.2" dx="0.6" dy="5.6" fill="#333">T</tspan></text>
<text transform="translate(1465.80 1855.10) scale(1 1.080)" font-size="26.80" stroke="#000" stroke-width="0.30">C<tspan font-size="17.2" dx="0.6" dy="5.3" fill="#333">T</tspan></text>
<text transform="translate(1223.20 1924.80) scale(1 1.000)" font-size="35.90" text-anchor="middle" font-weight="bold" font-style="italic">lytA</text>
<text transform="translate(906.80 1641.50) rotate(-90) scale(1 1.070)" font-size="35.60" text-anchor="middle" font-weight="bold">SP2020</text>
<circle cx="1225.3" cy="1612.9" r="7.35" fill="#b9b9b9" stroke="#000" stroke-width="2.6"/>
<circle cx="1225.3" cy="1603.3" r="7.35" fill="#b9b9b9" stroke="#000" stroke-width="2.6"/>
<circle cx="1256.9" cy="1590.0" r="7.35" fill="#b9b9b9" stroke="#000" stroke-width="2.6"/>
<circle cx="1317.4" cy="1565.1" r="7.35" fill="#b9b9b9" stroke="#000" stroke-width="2.6"/>
<circle cx="1290.5" cy="1549.2" r="7.35" fill="#b9b9b9" stroke="#000" stroke-width="2.6"/>
<circle cx="1295.1" cy="1558.5" r="7.35" fill="#b9b9b9" stroke="#000" stroke-width="2.6"/>
<circle cx="1301.5" cy="1524.9" r="7.35" fill="#b9b9b9" stroke="#000" stroke-width="2.6"/>
<circle cx="1312.8" cy="1533.9" r="7.35" fill="#b9b9b9" stroke="#000" stroke-width="2.6"/>
<circle cx="1333.3" cy="1525.3" r="7.35" fill="#b9b9b9" stroke="#000" stroke-width="2.6"/>
<circle cx="1335.3" cy="1509.0" r="7.35" fill="#b9b9b9" stroke="#000" stroke-width="2.6"/>
<circle cx="1360.1" cy="1459.7" r="7.35" fill="#b9b9b9" stroke="#000" stroke-width="2.6"/>
<path d="M1382.9 1416.1l28 27.2m-28 0l28 -27.2" stroke="#000" stroke-width="2.8" stroke-linecap="round" fill="none"/>
<path d="M1421.6 1536.4l28 27.2m-28 0l28 -27.2" stroke="#000" stroke-width="2.8" stroke-linecap="round" fill="none"/>
<path d="M1421.6 1523.9l28 27.2m-28 0l28 -27.2" stroke="#000" stroke-width="2.8" stroke-linecap="round" fill="none"/>
<path d="M1421.6 1513.4l28 27.2m-28 0l28 -27.2" stroke="#000" stroke-width="2.8" stroke-linecap="round" fill="none"/>
<path d="M1421.6 1511.5l28 27.2m-28 0l28 -27.2" stroke="#000" stroke-width="2.8" stroke-linecap="round" fill="none"/>
<path d="M1421.6 1508.7l28 27.2m-28 0l28 -27.2" stroke="#000" stroke-width="2.8" stroke-linecap="round" fill="none"/>
<path d="M1421.6 1506.0l28 27.2m-28 0l28 -27.2" stroke="#000" stroke-width="2.8" stroke-linecap="round" fill="none"/>
<path d="M1421.6 1503.2l28 27.2m-28 0l28 -27.2" stroke="#000" stroke-width="2.8" stroke-linecap="round" fill="none"/>
<path d="M1421.6 1500.4l28 27.2m-28 0l28 -27.2" stroke="#000" stroke-width="2.8" stroke-linecap="round" fill="none"/>
<path d="M1421.6 1497.6l28 27.2m-28 0l28 -27.2" stroke="#000" stroke-width="2.8" stroke-linecap="round" fill="none"/>
<path d="M1421.6 1494.8l28 27.2m-28 0l28 -27.2" stroke="#000" stroke-width="2.8" stroke-linecap="round" fill="none"/>
<path d="M1421.6 1482.8l28 27.2m-28 0l28 -27.2" stroke="#000" stroke-width="2.8" stroke-linecap="round" fill="none"/>
<path d="M1421.6 1480.0l28 27.2m-28 0l28 -27.2" stroke="#000" stroke-width="2.8" stroke-linecap="round" fill="none"/>
<path d="M1421.6 1477.2l28 27.2m-28 0l28 -27.2" stroke="#000" stroke-width="2.8" stroke-linecap="round" fill="none"/>
<path d="M1421.6 1474.4l28 27.2m-28 0l28 -27.2" stroke="#000" stroke-width="2.8" stroke-linecap="round" fill="none"/>
<path d="M1421.6 1471.7l28 27.2m-28 0l28 -27.2" stroke="#000" stroke-width="2.8" stroke-linecap="round" fill="none"/>
<path d="M1421.6 1468.9l28 27.2m-28 0l28 -27.2" stroke="#000" stroke-width="2.8" stroke-linecap="round" fill="none"/>
<path d="M1421.6 1459.6l28 27.2m-28 0l28 -27.2" stroke="#000" stroke-width="2.8" stroke-linecap="round" fill="none"/>
<path d="M1421.6 1456.8l28 27.2m-28 0l28 -27.2" stroke="#000" stroke-width="2.8" stroke-linecap="round" fill="none"/>
<path d="M1421.6 1454.1l28 27.2m-28 0l28 -27.2" stroke="#000" stroke-width="2.8" stroke-linecap="round" fill="none"/>
<path d="M1421.6 1443.9l28 27.2m-28 0l28 -27.2" stroke="#000" stroke-width="2.8" stroke-linecap="round" fill="none"/>
<path d="M1421.6 1440.2l28 27.2m-28 0l28 -27.2" stroke="#000" stroke-width="2.8" stroke-linecap="round" fill="none"/>
<path d="M1421.6 1436.4l28 27.2m-28 0l28 -27.2" stroke="#000" stroke-width="2.8" stroke-linecap="round" fill="none"/>
<path d="M1421.6 1427.2l28 27.2m-28 0l28 -27.2" stroke="#000" stroke-width="2.8" stroke-linecap="round" fill="none"/>
<path d="M1421.6 1424.4l28 27.2m-28 0l28 -27.2" stroke="#000" stroke-width="2.8" stroke-linecap="round" fill="none"/>
<path d="M1421.6 1421.6l28 27.2m-28 0l28 -27.2" stroke="#000" stroke-width="2.8" stroke-linecap="round" fill="none"/>
<path d="M1421.6 1418.8l28 27.2m-28 0l28 -27.2" stroke="#000" stroke-width="2.8" stroke-linecap="round" fill="none"/>
<path d="M1421.6 1417.4l28 27.2m-28 0l28 -27.2" stroke="#000" stroke-width="2.8" stroke-linecap="round" fill="none"/>
<path d="M1421.6 1416.1l28 27.2m-28 0l28 -27.2" stroke="#000" stroke-width="2.8" stroke-linecap="round" fill="none"/>
</g>
</g>
</svg></body></html>
